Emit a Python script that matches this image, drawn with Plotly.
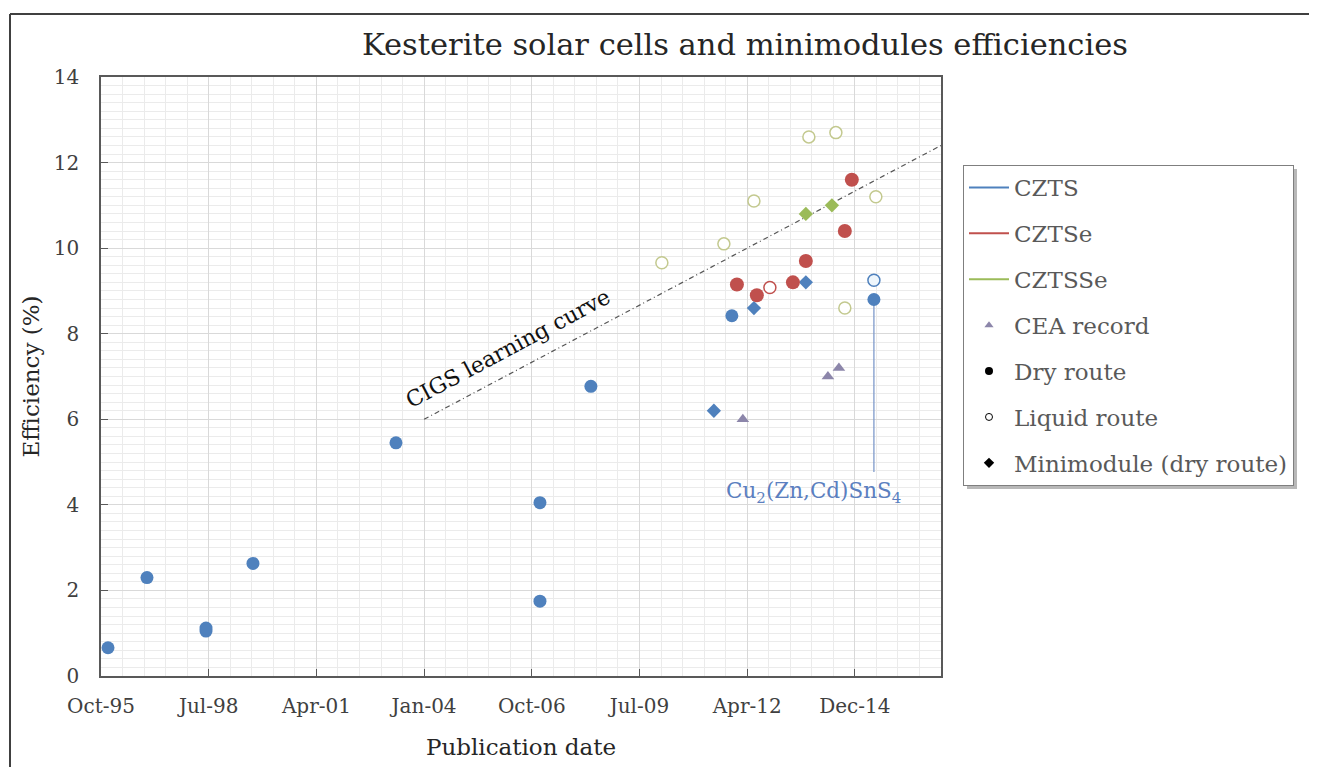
import plotly.graph_objects as go

# ---------------- data ----------------
tick_dates = ["1995-10-28", "1998-07-24", "2001-04-19", "2004-01-14",
              "2006-10-11", "2009-07-06", "2012-04-01", "2014-12-27"]
tick_labels = ["Oct-95", "Jul-98", "Apr-01", "Jan-04", "Oct-06", "Jul-09", "Apr-12", "Dec-14"]
x_range = ["1995-10-28", "2017-03-06"]

czts_dry_dates = ["1996-01-01", "1996-12-28", "1998-06-29", "1998-06-29", "1999-09-08",
                  "2003-04-28", "2006-12-25", "2006-12-25", "2008-04-11", "2011-11-11",
                  "2015-06-22"]
czts_dry_eff = [0.66, 2.3, 1.05, 1.12, 2.63, 5.45, 4.05, 1.75, 6.77, 8.42, 8.8]

czts_liquid_dates = ["2015-06-22"]
czts_liquid_eff = [9.25]

czts_module_dates = ["2011-05-28", "2012-06-03", "2013-09-28"]
czts_module_eff = [6.2, 8.6, 9.2]

cztse_dry_dates = ["2011-12-28", "2012-06-30", "2013-05-31", "2013-09-28", "2014-09-25", "2014-11-29"]
cztse_dry_eff = [9.15, 8.9, 9.2, 9.7, 10.4, 11.6]

cztse_liquid_dates = ["2012-10-29"]
cztse_liquid_eff = [9.08]

cztsse_liquid_dates = ["2010-01-30", "2011-08-29", "2012-06-03", "2013-10-26",
                       "2014-07-04", "2014-09-25", "2015-07-10"]
cztsse_liquid_eff = [9.66, 10.1, 11.1, 12.6, 12.7, 8.6, 11.2]

cztsse_module_dates = ["2013-09-28", "2014-05-28"]
cztsse_module_eff = [10.8, 11.0]

cea_dates = ["2012-02-21", "2014-04-21", "2014-08-01"]
cea_eff = [6.0, 7.0, 7.2]

cigs_dates = ["2004-01-14", "2017-03-06"]
cigs_eff = [6.0, 12.4]

# Cu2(Zn,Cd)SnS4 label: leader from this efficiency down, label placed here
cdzts_leader_bottom = 4.77
cdzts_label_date = "2013-12-12"
cdzts_label_eff = 4.3

cigs_label_date = "2006-03-03"
cigs_label_eff = 7.66

# ---------------- styling ----------------
FONT = "DejaVu Serif"
BLUE = "#4F81BD"
RED = "#C0504D"
GREEN = "#9BBB59"
PURPLE = "#8C86AA"
OLIVE = "#C3C98F"
TXT = "#404040"

# the page body adds an 8 px offset; the figure is sized/placed to compensate
OFF = 8
W, H = 1317 - OFF, 767 - OFF
PL, PR, PT, PB = 101 - OFF, 941 - OFF, 77 - OFF, 676 - OFF   # plot area in figure px


def px_x(px):   # screen px -> paper x
    return (px - 101) / 840


def px_y(py):   # screen px -> paper y
    return (676 - py) / 599


fig = go.Figure()

# CIGS learning curve
fig.add_trace(go.Scatter(x=cigs_dates, y=cigs_eff, mode="lines",
                         line=dict(color="#555555", width=1.2, dash="5px,3px,1px,3px"),
                         showlegend=False, hoverinfo="skip"))

# leader line for the Cu2(Zn,Cd)SnS4 point
fig.add_trace(go.Scatter(x=[czts_dry_dates[-1], czts_dry_dates[-1]],
                         y=[cdzts_leader_bottom, czts_dry_eff[-1]], mode="lines",
                         line=dict(color="#7f9acb", width=1.3),
                         showlegend=False, hoverinfo="skip"))


def pts(x, y, symbol, size, color, line_color=None, line_width=0):
    fig.add_trace(go.Scatter(
        x=x, y=y, mode="markers", showlegend=False,
        marker=dict(symbol=symbol, size=size, color=color,
                    line=dict(color=line_color or color, width=line_width))))


pts(cztsse_liquid_dates, cztsse_liquid_eff, "circle", 12, "white", OLIVE, 1.5)
pts(cztse_liquid_dates, cztse_liquid_eff, "circle", 12, "white", RED, 1.5)
pts(czts_liquid_dates, czts_liquid_eff, "circle", 12, "#eef6fc", BLUE, 1.5)
pts(czts_dry_dates, czts_dry_eff, "circle", 13, BLUE)
pts(czts_module_dates, czts_module_eff, "diamond", 11, BLUE)
pts(cztse_dry_dates, cztse_dry_eff, "circle", 14, RED)
pts(cztsse_module_dates, cztsse_module_eff, "diamond", 11, GREEN)
pts(cea_dates, cea_eff, "triangle-up", 11, PURPLE)

# legend-only entries
legend_items = [
    dict(name="CZTS", mode="lines", line=dict(color=BLUE, width=2)),
    dict(name="CZTSe", mode="lines", line=dict(color=RED, width=2)),
    dict(name="CZTSSe", mode="lines", line=dict(color=GREEN, width=2)),
    dict(name="CEA record", mode="markers", marker=dict(symbol="triangle-up", size=8, color=PURPLE)),
    dict(name="Dry route", mode="markers", marker=dict(symbol="circle", size=8, color="black")),
    dict(name="Liquid route", mode="markers",
         marker=dict(symbol="circle-open", size=7, color="black", line=dict(width=1))),
    dict(name="Minimodule (dry route)", mode="markers", marker=dict(symbol="diamond", size=8, color="black")),
]
for i, it in enumerate(legend_items):
    fig.add_trace(go.Scatter(x=[None], y=[None], legendgroup=f"g{i}", showlegend=True, **it))

fig.update_layout(
    width=W, height=H,
    margin=dict(l=PL, r=W - PR, t=PT, b=H - PB),
    paper_bgcolor="white", plot_bgcolor="white",
    font=dict(family=FONT, color=TXT),
    title=dict(text="Kesterite solar cells and minimodules efficiencies",
               x=(745 - OFF) / W, xref="container", xanchor="center",
               y=1 - (44 - OFF) / H, yref="container", yanchor="middle",
               font=dict(family=FONT, size=30.5, color="#262626")),
    legend=dict(x=px_x(963), y=px_y(165), xanchor="left", yanchor="top",
                bordercolor="#7f7f7f", borderwidth=1, bgcolor="white",
                font=dict(family=FONT, size=23, color="#595959"),
                tracegroupgap=13, traceorder="grouped", itemwidth=40),
    showlegend=True,
)

fig.update_xaxes(
    type="date", range=x_range,
    tickmode="array", tickvals=tick_dates, ticktext=tick_labels,
    tickfont=dict(family=FONT, size=20, color=TXT),
    ticks="inside", ticklen=7, tickcolor="#595959", ticklabelstandoff=11,
    showline=True, linecolor="#595959", linewidth=1.6, mirror=True,
    showgrid=True, gridcolor="#d9d9d9", gridwidth=1,
    minor=dict(tick0=x_range[0], dtick=200 * 86400000, showgrid=True,
               gridcolor="#ebebeb", gridwidth=1),
    title=dict(text="Publication date", font=dict(family=FONT, size=23, color="#262626"),
               standoff=22),
    zeroline=False,
)
fig.update_yaxes(
    range=[0, 14], dtick=2, tick0=0,
    tickfont=dict(family=FONT, size=20, color=TXT),
    ticks="inside", ticklen=7, tickcolor="#595959", ticklabelstandoff=16,
    showline=True, linecolor="#595959", linewidth=1.6, mirror=True,
    showgrid=True, gridcolor="#d9d9d9", gridwidth=1,
    minor=dict(dtick=0.2, showgrid=True, gridcolor="#ebebeb", gridwidth=1),
    title=dict(text="Efficiency (%)", font=dict(family=FONT, size=23, color="#262626"),
               standoff=8),
    zeroline=False,
)

fig.add_annotation(x=cigs_label_date, y=cigs_label_eff, text="CIGS learning curve",
                   showarrow=False, textangle=-28,
                   font=dict(family=FONT, size=22, color="#111111"))
fig.add_annotation(x=cdzts_label_date, y=cdzts_label_eff,
                   text="Cu<sub>2</sub>(Zn,Cd)SnS<sub>4</sub>",
                   showarrow=False, font=dict(family=FONT, size=21.5, color="#5b7fc0"))

# legend drop shadow (legend box itself is drawn above shapes)
fig.add_shape(type="rect", xref="paper", yref="paper",
              x0=px_x(967), x1=px_x(1297), y0=px_y(489), y1=px_y(169),
              line=dict(width=0), fillcolor="#b8b8b8", layer="above")

# outer chart-area frame (top and left edges visible)
fx = px_x(10)
fy = px_y(14)
fig.add_shape(type="line", xref="paper", yref="paper",
              x0=fx, x1=1.5, y0=fy, y1=fy, line=dict(color="#404040", width=2))
fig.add_shape(type="line", xref="paper", yref="paper",
              x0=fx, x1=fx, y0=-0.2, y1=fy, line=dict(color="#404040", width=2))

fig.write_html("out.html")
